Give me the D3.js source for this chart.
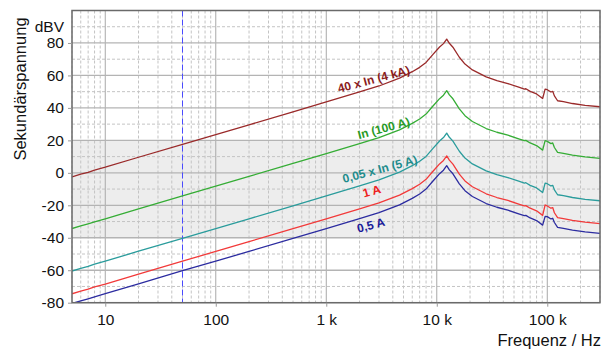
<!DOCTYPE html>
<html><head><meta charset="utf-8">
<script src="https://cdn.jsdelivr.net/npm/d3@7"></script>
<style>
body{margin:0;background:#fff}
svg{display:block;font-family:"Liberation Sans",Arial,Helvetica,sans-serif}
</style>
</head><body><svg id="chart" width="606" height="349"></svg>
<script>
// ---------- data ----------
const freqs = [5, 6, 7, 8, 10, 20, 50, 100, 200, 500, 1000, 2000, 3000, 4600, 6000, 7000, 8000, 9200, 10600, 11500, 12300, 13000, 14000, 16000, 18000, 21000, 28000, 35000, 44000, 56000, 62000, 64000, 70000, 80000, 90800, 95600, 100000, 108000, 112000, 116000, 124000, 140000, 169000, 220000, 300000];

const series40In = [-2.5, -0.8, 0.3, 1.7, 3.5, 9.6, 17.6, 23.6, 29.6, 37.6, 43.7, 49.8, 53.5, 58.3, 62.3, 65.0, 68.0, 72.8, 77.5, 79.6, 82.4, 79.8, 77.4, 71.2, 67.0, 63.4, 59.1, 56.8, 55.0, 52.6, 51.6, 51.8, 50.2, 48.6, 45.8, 51.6, 51.2, 49.8, 50.2, 47.4, 44.4, 43.8, 42.7, 41.6, 40.7];
const seriesIn = [-34.3, -32.7, -31.4, -30.2, -28.3, -22.2, -14.2, -8.2, -2.2, 5.8, 11.9, 18.0, 21.7, 26.5, 30.5, 33.2, 36.2, 41.0, 45.7, 47.8, 50.6, 48.0, 45.6, 39.4, 35.2, 31.6, 27.3, 25.0, 23.2, 20.8, 19.8, 20.0, 18.4, 16.8, 14.0, 19.8, 19.4, 18.0, 18.4, 15.6, 12.6, 12.0, 10.9, 9.8, 8.9];
const series005In = [-60.5, -58.9, -57.6, -56.3, -54.4, -48.3, -40.3, -34.3, -28.3, -20.3, -14.2, -8.1, -4.4, 0.4, 4.4, 7.1, 10.1, 14.9, 19.6, 21.7, 24.5, 21.9, 19.5, 13.3, 9.1, 5.5, 1.2, -1.1, -2.9, -5.3, -6.3, -6.1, -7.7, -9.3, -12.1, -6.3, -6.7, -8.1, -7.7, -10.5, -13.5, -14.1, -15.2, -16.3, -17.2];
const series1A = [-74.5, -72.8, -71.7, -70.3, -68.5, -62.4, -54.4, -48.4, -42.4, -34.4, -28.3, -22.2, -18.5, -13.7, -9.7, -7.0, -4.0, 0.8, 5.5, 7.6, 10.4, 7.8, 5.4, -0.8, -5.0, -8.6, -12.9, -15.2, -17.0, -19.4, -20.4, -20.2, -21.8, -23.4, -26.2, -19.8, -20.4, -21.8, -21.4, -24.6, -27.6, -28.2, -29.3, -30.4, -31.3];
const series05A = [-80.5, -78.9, -77.6, -76.4, -74.4, -68.4, -60.2, -54.4, -48.4, -40.4, -34.3, -28.2, -24.5, -19.7, -15.7, -13.0, -10.0, -5.2, -0.5, 1.6, 4.4, 1.8, -0.6, -6.8, -11.0, -14.6, -18.9, -21.2, -23.0, -25.4, -26.4, -26.2, -27.8, -29.4, -32.2, -26.8, -27.0, -28.4, -28.0, -30.6, -33.6, -34.2, -35.3, -36.4, -37.3];

const seriesLabels = ["40 x In (4 kA)", "In (100 A)", "0,05 x In (5 A)", "1 A", "0,5 A"];
// label anchor in data units (frequency, dBV)
const labelFreqs = [2690, 3310, 3050, 2580, 2530];
const labelLevels = [57.7, 27.5, 2.3, -11.3, -32.2];

const xTickValues = [10, 100, 1000, 10000, 100000];
const xTickLabels = ["10", "100", "1 k", "10 k", "100 k"];
const yTickValues = [-80, -60, -40, -20, 0, 20, 40, 60, 80];
const yMinorValues = [-70, -50, -30, -10, 10, 30, 50, 70, 90];
const bandLimits = [-40, 20];
const markerFreq = 50;

// ---------- styles ----------
const lineColors = ["#9a2a2a", "#35ad35", "#2a9c9c", "#f23a3a", "#2c2ca0"];
const labelColors = ["#8a1c1c", "#279a27", "#1f8c8c", "#ee2020", "#1a1a99"];

const svg = d3.select("#chart");
const L = 72, R = 600, T = 10.5, B = 302.7;
const x = d3.scaleLog().domain([5, 300000]).range([L, R]);
const y = d3.scaleLinear().domain([-80, 100]).range([B, T]);

svg.append("rect").attr("width", 606).attr("height", 349).attr("fill", "#fff");

svg.append("defs").append("clipPath").attr("id", "clip")
  .append("rect").attr("x", L).attr("y", T).attr("width", R - L).attr("height", B - T);

// band
svg.append("rect").attr("x", L).attr("width", R - L)
  .attr("y", y(bandLimits[1])).attr("height", y(bandLimits[0]) - y(bandLimits[1]))
  .attr("fill", "#ededed");

const grid = svg.append("g");
// minor vertical grid
const minorX = [];
[1, 10, 100, 1000, 10000, 100000].forEach(d => {
  for (let m = 2; m <= 9; m++) { const v = d * m; if (v >= 5 && v <= 300000) minorX.push(v); }
});
grid.selectAll(".mx").data(minorX).join("line")
  .attr("x1", d => x(d)).attr("x2", d => x(d)).attr("y1", T).attr("y2", B)
  .attr("stroke", "#c4c4c4").attr("stroke-width", 1).attr("stroke-dasharray", "3,2");
grid.selectAll(".my").data(yMinorValues).join("line")
  .attr("x1", L).attr("x2", R).attr("y1", d => y(d)).attr("y2", d => y(d))
  .attr("stroke", "#c4c4c4").attr("stroke-width", 1).attr("stroke-dasharray", "3,2");
// major grid
grid.selectAll(".Mx").data(xTickValues).join("line")
  .attr("x1", d => x(d)).attr("x2", d => x(d)).attr("y1", T).attr("y2", B)
  .attr("stroke", "#a8a8a8").attr("stroke-width", 1);
grid.selectAll(".My").data(yTickValues).join("line")
  .attr("x1", L).attr("x2", R).attr("y1", d => y(d)).attr("y2", d => y(d))
  .attr("stroke", "#b4b4b4").attr("stroke-width", 1.3);

// 50 Hz marker
svg.append("line").attr("x1", x(markerFreq)).attr("x2", x(markerFreq)).attr("y1", T).attr("y2", B)
  .attr("stroke", "#4a4aff").attr("stroke-width", 1).attr("stroke-dasharray", "6,3");

// curves
const allSeries = [series40In, seriesIn, series005In, series1A, series05A];
const line = d3.line().x(d => x(d[0])).y(d => y(d[1]));
const curves = svg.append("g").attr("clip-path", "url(#clip)");
allSeries.forEach((vals, i) => {
  curves.append("path").datum(freqs.map((f, j) => [f, vals[j]]))
    .attr("d", line).attr("fill", "none").attr("stroke", lineColors[i])
    .attr("stroke-width", 1.3).attr("stroke-linejoin", "round");
});

// labels
seriesLabels.forEach((t, i) => {
  const cx = x(labelFreqs[i]), cy = y(labelLevels[i]);
  svg.append("text").attr("transform", `translate(${cx},${cy}) rotate(-15)`)
    .attr("text-anchor", "middle").attr("dy", "0.35em")
    .attr("font-size", 12).attr("font-weight", "bold").attr("fill", labelColors[i]).text(t);
});

// frame
svg.append("rect").attr("x", L).attr("y", T).attr("width", R - L).attr("height", B - T)
  .attr("fill", "none").attr("stroke", "#6a6a6a").attr("stroke-width", 1.5);

// axes
const yAxis = d3.axisLeft(y).tickValues(yTickValues).tickSize(4).tickPadding(4).tickFormat(d => d);
const gy = svg.append("g").attr("transform", `translate(${L},0)`).call(yAxis);
const xAxis = d3.axisBottom(x).tickValues(xTickValues).tickSize(4).tickPadding(7)
  .tickFormat((d, i) => xTickLabels[i]);
const gx = svg.append("g").attr("transform", `translate(0,${B})`).call(xAxis);
[gx, gy].forEach(g => {
  g.select(".domain").remove();
  g.selectAll(".tick line").attr("stroke", "#999");
  g.selectAll(".tick text").attr("font-size", 15.5).attr("fill", "#111")
    .attr("font-family", '"Liberation Sans",Arial,sans-serif');
});

// titles
svg.append("text").attr("x", 64).attr("y", 31.5).attr("text-anchor", "end")
  .attr("font-size", 15.5).attr("fill", "#111").text("dBV");
svg.append("text").attr("transform", "translate(26,89) rotate(-90)").attr("text-anchor", "middle")
  .attr("font-size", 16.5).attr("fill", "#111").text("Sekundärspannung");
svg.append("text").attr("x", 601).attr("y", 346).attr("text-anchor", "end")
  .attr("font-size", 16.5).attr("fill", "#111").text("Frequenz / Hz");
</script>
</body></html>
